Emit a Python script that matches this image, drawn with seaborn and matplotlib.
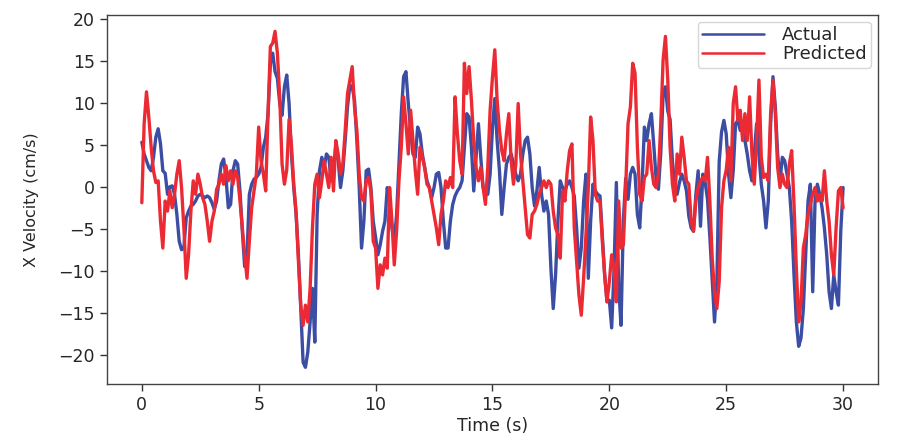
import numpy as np
import pandas as pd
import matplotlib
matplotlib.use("Agg")
import matplotlib.pyplot as plt
import seaborn as sns

# time axis: 0 .. 30 s, 0.1 s step
time_s = np.round(np.arange(301) * 0.1, 1)

actual_0_5 = [5.3, 3.9, 3.1, 2.3, 1.9, 3.5, 5.9, 6.9, 5.1, 1.9,
              1.6, -0.9, 0.0, 0.1, -0.9, -3.3, -6.5, -7.5, -7.3, -3.7,
              -2.9, -2.3, -2.1, -1.7, -1.1, -0.9, -1.1, -1.3, -1.1, -1.3,
              -1.9, -2.7, -1.7, 0.7, 2.7, 3.3, 1.1, -2.5, -2.1, 1.9,
              3.1, 2.7, -0.5, -5.3, -9.5, -8.1, -0.9, 0.3, 0.9, 1.1]
actual_5_10 = [1.5, 2.3, 4.7, 5.9, 8.7, 14.7, 15.9, 13.7, 12.9, 9.9,
               8.5, 11.9, 13.3, 9.9, 3.9, -0.1, -3.3, -8.1, -14.5, -20.9,
               -21.5, -19.7, -16.1, -12.1, -18.5, -3.3, 1.9, 3.5, 2.3, 3.9,
               3.5, 0.7, 1.9, 5.1, 3.1, -0.1, 1.9, 5.5, 9.5, 12.1,
               11.9, 10.3, 5.5, -0.1, -7.3, -4.1, 1.9, 2.1, -0.1, -4.1]
actual_10_15 = [-6.0, -8.1, -6.9, -5.3, -4.1, -0.1, -1.7, -4.9, -6.5, -3.3,
                2.7, 8.7, 13.1, 13.7, 9.9, 6.7, 3.9, 3.5, 7.1, 6.3,
                3.9, 2.3, 0.7, -0.1, -1.3, -0.1, 1.5, 1.7, -0.1, -4.1,
                -7.3, -7.3, -4.1, -2.1, -1.1, -0.5, -0.1, 0.7, 4.7, 8.7,
                8.3, 4.7, -0.5, 3.5, 7.5, 3.5, -0.1, -0.5, -0.9, 1.5]
actual_15_20 = [7.0, 10.5, 5.5, 1.9, -3.3, -0.1, 2.7, 3.5, 3.9, 2.7,
                1.5, 0.7, 1.5, 3.9, 5.5, 5.9, 3.9, -0.1, -2.3, -0.5,
                2.3, -0.9, -2.9, -1.7, -3.3, -9.7, -14.5, -10.5, -4.1, 0.7,
                -0.1, -0.5, 0.3, 0.7, -0.1, -1.1, -4.9, -9.7, -7.3, -1.7,
                1.5, -10.9, -4.1, 0.3, -0.5, -0.9, -1.1, -5.7, -10.5, -13.7]
actual_20_25 = [-13.5, -16.8, -10.0, 0.5, -12.0, -16.5, -4.0, 1.0, -1.5, 1.5,
                2.3, 1.5, -3.3, -4.9, 0.3, 7.1, 5.5, 7.5, 8.7, 5.0,
                1.0, -0.3, 4.0, 11.0, 11.9, 9.0, 8.0, 3.0, -0.1, -0.9,
                0.5, 1.5, 0.7, -0.5, -3.5, -4.9, -5.3, -1.0, 1.9, -4.7,
                1.5, 0.5, -1.5, -6.0, -11.0, -16.1, -11.3, 3.0, 6.5, 7.9]
actual_25_30 = [6.3, 1.5, -1.3, 1.9, 7.5, 7.9, 6.7, 7.5, 5.5, 3.9,
                1.9, 0.7, 3.9, 7.5, 3.9, 0.3, -1.7, -4.9, -1.7, 7.5,
                13.1, 9.5, 3.9, 0.7, 3.5, 3.1, 1.5, -0.1, -4.1, -10.5,
                -16.1, -19.0, -18.0, -14.5, -8.1, -1.7, 0.3, -12.5, -1.7, 0.3,
                -0.9, -2.5, -4.9, -8.1, -12.5, -14.5, -10.5, -12.5, -14.1, -5.3,
                -0.1]

predicted_0_5 = [-1.9, 7.5, 11.3, 8.3, 4.7, 1.9, 0.5, 0.7, -4.1, -7.3,
                 -1.7, -2.9, -0.5, -2.5, -0.9, 1.5, 3.1, -0.1, -4.9, -10.9,
                 -8.1, -2.9, 0.7, -0.9, 1.5, 0.3, -1.3, -2.1, -4.1, -6.5,
                 -4.1, -2.9, -0.3, 0.3, 1.5, 0.3, 2.5, 0.7, 1.9, 0.3,
                 1.9, 1.1, -1.7, -4.9, -8.1, -10.9, -6.5, -2.5, -0.5, 1.5]
predicted_5_10 = [7.1, 3.1, 1.5, -0.5, 8.7, 16.7, 17.1, 18.5, 15.9, 10.7,
                  2.7, 0.3, 2.0, 8.0, 5.0, 0.3, -3.0, -8.9, -14.1, -16.5,
                  -14.1, -16.1, -12.1, -4.9, 0.3, 1.5, -1.3, 0.7, 3.1, 1.5,
                  -0.1, 3.5, -0.5, 5.5, 3.9, 1.5, 2.7, 6.7, 11.1, 12.7,
                  14.3, 9.5, 6.7, 1.5, -1.3, -1.7, 0.7, 1.1, -0.5, -6.5]
predicted_10_15 = [-7.3, -12.1, -9.3, -10.5, -8.5, -9.7, -0.1, -4.1, -9.3, -5.3,
                   0.7, 4.7, 10.7, 7.5, 3.9, 9.1, 5.5, 1.9, -0.9, 4.7,
                   3.5, 2.3, 0.3, -0.1, -1.7, -3.3, -4.9, -6.9, -3.3, -1.7,
                   0.7, -0.1, 1.1, -0.1, 10.7, 6.3, 3.1, 1.5, 14.7, 11.1,
                   14.3, 10.3, 5.5, 2.3, 0.7, 2.3, -0.1, -2.1, 2.3, 9.1]
predicted_15_20 = [13.0, 16.3, 10.3, 6.7, 4.3, 3.1, 6.3, 8.7, 3.1, 0.3,
                   2.7, 9.9, 3.9, 0.7, -2.5, -5.7, -6.1, -3.3, -2.9, -2.1,
                   -0.9, -0.1, 0.7, -0.1, 0.7, 0.3, -2.9, -4.9, -5.7, -8.5,
                   -0.5, -1.7, 1.9, 4.3, 5.1, -4.9, -8.9, -12.9, -15.3, -10.9,
                   -5.7, -0.1, 8.3, 5.5, -0.9, -1.7, -1.7, -6.5, -10.5, -13.7]
predicted_20_25 = [-11.3, -8.1, -9.7, -13.7, -1.7, -7.3, -6.9, -0.1, 7.5, 9.5,
                   14.7, 13.5, 4.7, -0.9, -1.7, 1.1, 1.5, 5.5, 2.3, 0.3,
                   -0.1, 1.5, 7.5, 15.1, 17.9, 12.7, 4.7, 0.3, -1.7, 3.9,
                   1.5, 5.9, 3.5, 0.7, 0.3, -4.1, -5.3, -1.7, -0.1, 0.7,
                   1.1, 0.7, 3.5, -1.7, -8.5, -12.5, -14.5, -11.3, -2.5, 0.7]
predicted_25_30 = [2.0, 4.7, 0.7, 9.9, 11.9, 7.9, 9.1, 5.5, 8.7, 5.5,
                   10.7, 3.9, 0.3, 5.5, 12.7, 3.5, 1.1, 1.5, 0.7, 8.7,
                   12.7, 8.7, 2.3, -0.1, 1.5, 0.3, -0.1, 2.7, 4.3, -2.1,
                   -9.7, -16.1, -13.7, -7.3, -5.7, -3.3, -2.1, -0.9, -0.1, -1.7,
                   -0.9, -1.7, 1.9, -1.7, -4.1, -8.1, -10.5, -4.9, -0.5, -0.1,
                   -2.5]

actual = actual_0_5 + actual_5_10 + actual_10_15 + actual_15_20 + actual_20_25 + actual_25_30
predicted = (predicted_0_5 + predicted_5_10 + predicted_10_15 + predicted_15_20
             + predicted_20_25 + predicted_25_30)

series_labels = ["Actual", "Predicted"]
series_colors = ["#3c4ea4", "#ec2a33"]

df = pd.DataFrame({"Time (s)": time_s, "Actual": actual, "Predicted": predicted})

sns.set_style("ticks")
plt.rcParams["font.family"] = ["DejaVu Sans"]

fig = plt.figure(figsize=(8.97, 4.41), dpi=100)
ax = fig.add_axes([0.119, 0.129, 0.86, 0.838])

for lab, col in zip(series_labels, series_colors):
    sns.lineplot(data=df, x="Time (s)", y=lab, ax=ax, color=col, linewidth=2.4, label=lab)

ax.set_xlabel("Time (s)", fontsize=12.5, labelpad=2)
ax.set_ylabel("X Velocity (cm/s)", fontsize=11.5, labelpad=14)
ax.set_xticks([0, 5, 10, 15, 20, 25, 30])
ax.set_yticks([-20, -15, -10, -5, 0, 5, 10, 15, 20])
ax.tick_params(labelsize=12.5, length=5, width=1, color="#333333")
for s in ax.spines.values():
    s.set_color("#444444")
    s.set_linewidth(1.0)
leg = ax.legend(loc="upper right", fontsize=13, frameon=True, borderaxespad=0.4,
                labelspacing=0.05, handlelength=3.4, handletextpad=1.0, borderpad=0.25)
for h in leg.get_lines():
    h.set_linewidth(1.8)

fig.savefig("out.png", dpi=100)
